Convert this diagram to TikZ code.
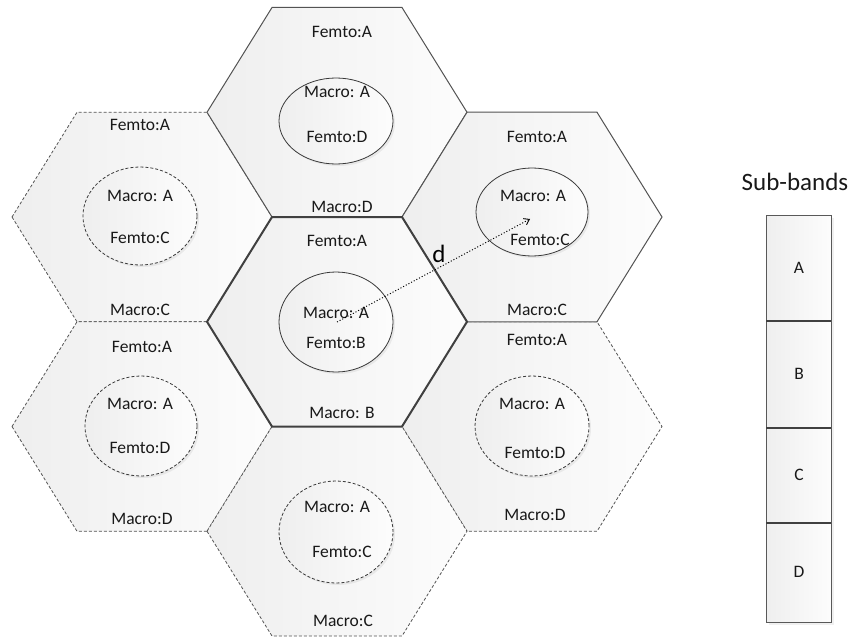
\documentclass[tikz,border=0pt]{standalone}
\usepackage{fontspec}
\setmainfont{Carlito}
\usetikzlibrary{shapes.geometric,arrows.meta,shadows}

% flat-topped hexagonal cell: centre (#1,#2), style #3
\newcommand\hexcell[3]{%
  \path[#3] (#1-130,#2) -- (#1-65,#2-104.75) -- (#1+65,#2-104.75)
    -- (#1+130,#2) -- (#1+65,#2+104.75) -- (#1-65,#2+104.75) -- cycle;}

\tikzset{
  cellfill/.style={left color=gray!13, right color=gray!2},
  dashcell/.style={cellfill, draw=gray!65!black, line width=0.8pt,
    dash pattern=on 3pt off 2pt},
  solidcell/.style={cellfill, draw=gray!65!black, line width=1pt},
  maincell/.style={cellfill, draw=black!75, line width=2pt, line join=miter},
  zone/.style={ellipse, inner sep=0pt, cellfill,
    drop shadow={shadow xshift=2pt, shadow yshift=-2pt, opacity=0.12}},
  solidzone/.style={zone, draw=gray!45!black, line width=0.8pt},
  dashzone/.style={zone, draw=gray!45!black, line width=0.8pt,
    dash pattern=on 3pt off 2pt},
  lbl/.style={font=\fontsize{17.5}{19}\selectfont, text=black!90, inner sep=0pt},
  bandbox/.style={draw=gray!70!black, line width=1pt, cellfill,
    drop shadow={shadow xshift=3pt, shadow yshift=-3pt, opacity=0.12}},
}

\begin{document}
\begin{tikzpicture}[x=1pt, y=-1pt]
\useasboundingbox (0,0) rectangle (850,639);

% outer ring with dashed borders
\hexcell{142}{217}{dashcell}
\hexcell{142}{426.5}{dashcell}
\hexcell{532}{426.5}{dashcell}
\hexcell{337}{531.25}{dashcell}
% ring cells with solid borders
\hexcell{337}{112.25}{solidcell}
\hexcell{532}{217}{solidcell}
% serving cell
\hexcell{337}{321.75}{maincell}

% macro zones inside each cell
\node[solidzone, minimum width=114pt, minimum height=86pt]  (zT)  at (336,121) {};
\node[dashzone,  minimum width=114pt, minimum height=98pt]  (zUL) at (140,216) {};
\node[solidzone, minimum width=112pt, minimum height=88pt]  (zUR) at (532,212) {};
\node[solidzone, minimum width=114pt, minimum height=100pt] (zC)  at (336,322) {};
\node[dashzone,  minimum width=112pt, minimum height=100pt] (zLL) at (141,426) {};
\node[dashzone,  minimum width=114pt, minimum height=100pt] (zLR) at (532,426) {};
\node[dashzone,  minimum width=114pt, minimum height=102pt] (zB)  at (336,532) {};

% top cell
\node[lbl] (tF) at (342,32)  {Femto:A};
\node[lbl] (tM) at (337,92)  {Macro: A};
\node[lbl] (tf) at (337,137) {Femto:D};
\node[lbl] (tB) at (342,207) {Macro:D};
% upper-left cell
\node[lbl] (ulF) at (140,125) {Femto:A};
\node[lbl] (ulM) at (140,196) {Macro: A};
\node[lbl] (ulf) at (140,238) {Femto:C};
\node[lbl] (ulB) at (140,310) {Macro:C};
% upper-right cell
\node[lbl] (urF) at (537,137) {Femto:A};
\node[lbl] (urM) at (533,196) {Macro: A};
\node[lbl] (urf) at (540,240) {Femto:C};
\node[lbl] (urB) at (537,310) {Macro:C};
% centre cell
\node[lbl] (cF) at (337,241) {Femto:A};
\node[lbl] (cM) at (336,313) {Macro: A};
\node[lbl] (cf) at (336,343) {Femto:B};
\node[lbl] (cB) at (342,413) {Macro: B};
% lower-left cell
\node[lbl] (llF) at (142,347) {Femto:A};
\node[lbl] (llM) at (140,404) {Macro: A};
\node[lbl] (llf) at (140,448) {Femto:D};
\node[lbl] (llB) at (142,519) {Macro:D};
% lower-right cell
\node[lbl] (lrF) at (537,340) {Femto:A};
\node[lbl] (lrM) at (532,404) {Macro: A};
\node[lbl] (lrf) at (535,453) {Femto:D};
\node[lbl] (lrB) at (535,515) {Macro:D};
% bottom cell
\node[lbl] (bM) at (337,507) {Macro: A};
\node[lbl] (bf) at (342,552) {Femto:C};
\node[lbl] (bB) at (343,621) {Macro:C};

% reuse distance between the two serving points
\coordinate (dA) at (337,322);
\coordinate (dB) at (530,219);
\draw[dotted, line width=1pt, -{Straight Barb[length=5pt, width=7pt, line width=0.9pt]}]
  (dA) -- (dB);
\node[font=\fontsize{25}{28}\selectfont, inner sep=0pt] (dlbl) at (439,254) {d};

% sub-band stack
\node[font=\fontsize{25}{28}\selectfont, text=black!90, inner sep=0pt] (sbt) at (795,182) {Sub-bands};
\path[bandbox] (766,215) rectangle (831,622);
\draw[black!75, line width=1.6pt] (766,321) -- (831,321);
\draw[black!75, line width=1.6pt] (766,428) -- (831,428);
\draw[black!75, line width=1.6pt] (766,523) -- (831,523);
\node[lbl] (bA) at (799,268) {A};
\node[lbl] (bBb) at (799,374) {B};
\node[lbl] (bC) at (799,475) {C};
\node[lbl] (bD) at (799,572) {D};
\end{tikzpicture}
\end{document}
